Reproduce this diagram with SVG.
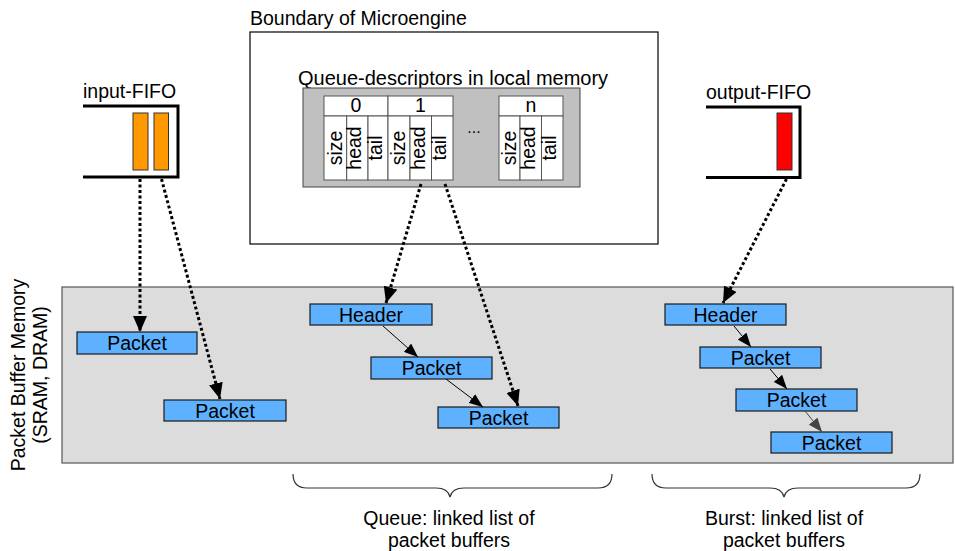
<svg xmlns="http://www.w3.org/2000/svg" width="955" height="551" viewBox="0 0 955 551">
<style>
text{font-family:"Liberation Sans",Arial,sans-serif;fill:#000;}
.t{font-size:19.5px;}
.c{text-anchor:middle;}
.cell{fill:#fff;stroke:#555;stroke-width:1;}
.buf{fill:#5EB1FF;stroke:#1a1a1a;stroke-width:1.2;}
.fifo{fill:none;stroke:#000;stroke-width:3;}
.dot{fill:none;stroke:#000;stroke-width:3;stroke-dasharray:3 2.5;}
.thin{fill:none;stroke:#000;stroke-width:1;}
.brace{fill:none;stroke:#333;stroke-width:1.2;}
</style>
<defs>
<marker id="big" markerUnits="userSpaceOnUse" markerWidth="16" markerHeight="14" refX="16" refY="7" orient="auto">
<path d="M0,0 L16,7 L0,14 z" fill="#000"/>
</marker>
<marker id="small" markerUnits="userSpaceOnUse" markerWidth="14" markerHeight="11" refX="14" refY="5.5" orient="auto">
<path d="M0,0 L14,5.5 L0,11 z" fill="#000"/>
</marker>
<marker id="smallg" markerUnits="userSpaceOnUse" markerWidth="14" markerHeight="11" refX="14" refY="5.5" orient="auto">
<path d="M0,0 L14,5.5 L0,11 z" fill="#444"/>
</marker>
</defs>

<g id="memory">
<rect x="62" y="287" width="891" height="176" fill="#dcdcdc" stroke="#555" stroke-width="1.2"/>
<text class="t c" transform="translate(25,375) rotate(-90)">Packet Buffer Memory</text>
<text class="t c" transform="translate(47,375) rotate(-90)">(SRAM, DRAM)</text>
</g>

<g id="microengine">
<text class="t" x="250" y="25">Boundary of Microengine</text>
<rect x="250" y="32" width="408" height="212" fill="#fff" stroke="#000" stroke-width="1.2"/>
</g>

<g id="queue-descriptors">
<text class="t" x="298" y="85" style="font-size:20px">Queue-descriptors in local memory</text>
<rect x="303" y="88" width="277" height="99" fill="#c0c0c0" stroke="#444" stroke-width="1"/>
<rect class="cell" x="324" y="96" width="64" height="20"/>
<rect class="cell" x="388" y="96" width="65" height="20"/>
<rect class="cell" x="499" y="96" width="64" height="20"/>
<rect class="cell" x="324" y="116" width="22.7" height="64"/>
<rect class="cell" x="346.7" y="116" width="21.3" height="64"/>
<rect class="cell" x="368" y="116" width="20" height="64"/>
<rect class="cell" x="388" y="116" width="22" height="64"/>
<rect class="cell" x="410" y="116" width="21.5" height="64"/>
<rect class="cell" x="431.5" y="116" width="21.5" height="64"/>
<rect class="cell" x="499" y="116" width="21" height="64"/>
<rect class="cell" x="520" y="116" width="21.5" height="64"/>
<rect class="cell" x="541.5" y="116" width="21.5" height="64"/>
<text class="t c" x="356" y="112">0</text>
<text class="t c" x="420.5" y="112">1</text>
<text class="t c" x="531" y="112">n</text>
<text class="c" x="474" y="133" style="font-size:16px">...</text>
<text class="t c" transform="translate(341.5,148) rotate(-90)">size</text>
<text class="t c" transform="translate(361,148) rotate(-90)">head</text>
<text class="t c" transform="translate(382,148) rotate(-90)">tail</text>
<text class="t c" transform="translate(405,148) rotate(-90)">size</text>
<text class="t c" transform="translate(424.5,148) rotate(-90)">head</text>
<text class="t c" transform="translate(446,148) rotate(-90)">tail</text>
<text class="t c" transform="translate(515.5,148) rotate(-90)">size</text>
<text class="t c" transform="translate(534.5,148) rotate(-90)">head</text>
<text class="t c" transform="translate(556,148) rotate(-90)">tail</text>
</g>

<g id="input-fifo">
<text class="t" x="83" y="98">input-FIFO</text>
<path class="fifo" d="M83,106 L178,106 L178,177 L83,177"/>
<rect x="133" y="113" width="15" height="57" fill="#FF9900" stroke="#333" stroke-width="1"/>
<rect x="154" y="113" width="14.5" height="57" fill="#FF9900" stroke="#333" stroke-width="1"/>
</g>

<g id="output-fifo">
<text class="t" x="706" y="99">output-FIFO</text>
<path class="fifo" d="M706,107 L800,107 L800,177.5 L706,177.5"/>
<rect x="777" y="113" width="15" height="57" fill="#FF0000" stroke="#333" stroke-width="1"/>
</g>

<g id="packet-in-1"><rect class="buf" x="77" y="332" width="120" height="22"/><text class="t c" x="137" y="350">Packet</text></g>
<g id="packet-in-2"><rect class="buf" x="164" y="400" width="122" height="21"/><text class="t c" x="225" y="418">Packet</text></g>

<g id="queue-header"><rect class="buf" x="310" y="304" width="122" height="21"/><text class="t c" x="371" y="322">Header</text></g>
<g id="queue-packet-1"><rect class="buf" x="371" y="357" width="121" height="22"/><text class="t c" x="431.5" y="375">Packet</text></g>
<g id="queue-packet-2"><rect class="buf" x="438" y="407" width="121" height="21"/><text class="t c" x="498.5" y="425">Packet</text></g>

<g id="burst-header"><rect class="buf" x="665" y="304" width="121" height="21"/><text class="t c" x="725.5" y="322">Header</text></g>
<g id="burst-packet-1"><rect class="buf" x="700" y="347" width="121" height="21"/><text class="t c" x="760.5" y="365">Packet</text></g>
<g id="burst-packet-2"><rect class="buf" x="736" y="389" width="121" height="22"/><text class="t c" x="796.5" y="407">Packet</text></g>
<g id="burst-packet-3"><rect class="buf" x="771" y="432" width="121" height="21"/><text class="t c" x="831.5" y="450">Packet</text></g>

<g id="connectors">
<line class="dot" x1="140" y1="179" x2="140" y2="332" marker-end="url(#big)"/>
<line class="dot" x1="161.5" y1="179" x2="220" y2="399" marker-end="url(#big)"/>
<line class="dot" x1="421" y1="184" x2="386" y2="303" marker-end="url(#big)"/>
<line class="dot" x1="445" y1="184" x2="518" y2="406" marker-end="url(#big)"/>
<line class="dot" x1="786.5" y1="179" x2="723" y2="303" marker-end="url(#big)"/>
<line class="thin" x1="383" y1="326" x2="418" y2="357" marker-end="url(#small)"/>
<line class="thin" x1="446" y1="379" x2="483" y2="407" marker-end="url(#small)"/>
<line class="thin" x1="734" y1="326" x2="751" y2="347" marker-end="url(#small)"/>
<line class="thin" x1="770" y1="369" x2="787" y2="389" marker-end="url(#small)"/>
<line x1="805" y1="411" x2="822" y2="432" stroke="#444" stroke-width="1" marker-end="url(#smallg)"/>
</g>

<g id="queue-brace">
<path class="brace" d="M293,474 Q293,488 307,488 L436,488 Q448,488 450,497 Q452,488 464,488 L598,488 Q612,488 612,474"/>
<text class="t c" x="449" y="525">Queue: linked list of</text>
<text class="t c" x="449" y="547">packet buffers</text>
</g>

<g id="burst-brace">
<path class="brace" d="M652,474 Q652,488 666,488 L770,488 Q782,488 784,497 Q786,488 798,488 L906,488 Q920,488 920,474"/>
<text class="t c" x="784" y="525">Burst: linked list of</text>
<text class="t c" x="784" y="547">packet buffers</text>
</g>
</svg>
